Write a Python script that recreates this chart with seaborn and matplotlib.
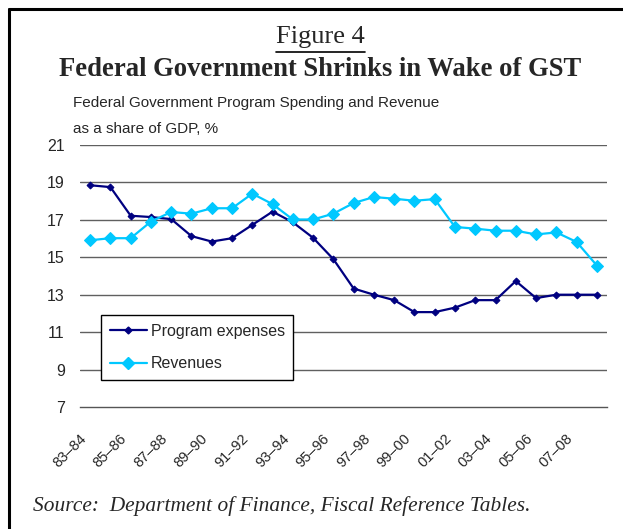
import matplotlib
matplotlib.use("Agg")
import matplotlib.pyplot as plt
import matplotlib.transforms as mtransforms
import seaborn as sns
import pandas as pd
from matplotlib.lines import Line2D

years = ["83–84", "84–85", "85–86", "86–87", "87–88", "88–89", "89–90", "90–91",
         "91–92", "92–93", "93–94", "94–95", "95–96", "96–97", "97–98", "98–99",
         "99–00", "00–01", "01–02", "02–03", "03–04", "04–05", "05–06", "06–07",
         "07–08", "08–09"]
program_expenses = [18.85, 18.75, 17.22, 17.15, 17.04, 16.13, 15.84, 16.02, 16.73, 17.44,
                    16.87, 16.04, 14.9, 13.33, 13.0, 12.71, 12.07, 12.07, 12.31, 12.71,
                    12.71, 13.73, 12.82, 13.0, 13.0, 13.0]
revenues = [15.91, 16.02, 16.02, 16.91, 17.42, 17.33, 17.62, 17.62, 18.4, 17.84,
            17.02, 17.02, 17.33, 17.9, 18.22, 18.13, 18.02, 18.11, 16.62, 16.53,
            16.42, 16.42, 16.22, 16.33, 15.82, 14.56]
yticks = [7, 9, 11, 13, 15, 17, 19, 21]

sns.set_style("white")
sans = ["Liberation Sans", "DejaVu Sans"]
serif = ["Liberation Serif", "DejaVu Serif"]
plt.rcParams["font.family"] = sans

W, H = 623, 529
fig = plt.figure(figsize=(W / 100, H / 100), dpi=100)
ax = fig.add_axes([80 / W, (H - 407) / H, (607 - 80) / W, (407 - 145) / H])

df = pd.DataFrame({"idx": list(range(len(years))), "year": years,
                   "Program expenses": program_expenses, "Revenues": revenues})

NAVY = "#000080"
CYAN = "#00C8FF"
sns.lineplot(data=df, x="idx", y="Program expenses", ax=ax, color=NAVY,
             marker="D", markersize=3.5, markeredgecolor=NAVY, linewidth=1.6)
sns.lineplot(data=df, x="idx", y="Revenues", ax=ax, color=CYAN,
             marker="D", markersize=6.5, markeredgecolor=CYAN, linewidth=1.6)

ax.set_xlim(-0.5, len(years) - 0.5)
ax.set_ylim(7, 21)
ax.set_yticks(yticks)
ax.set_yticklabels([str(v) for v in yticks], fontsize=11.5)
for v in yticks[1:]:
    ax.axhline(v, color="#606060", linewidth=1.0, zorder=0)

ax.set_xticks([i for i in range(0, len(years), 2)])
ax.set_xticklabels([years[i] for i in range(0, len(years), 2)], rotation=45,
                   ha="right", va="center", rotation_mode="anchor", fontsize=10.5)
ax.tick_params(axis="x", which="major", length=0, pad=21)
shift = mtransforms.ScaledTranslation(-6 / 100, 0, fig.dpi_scale_trans)
for lbl in ax.get_xticklabels():
    lbl.set_transform(lbl.get_transform() + shift)
ax.tick_params(axis="y", length=0, pad=11)
ax.set_xticks([i - 0.5 for i in range(len(years) + 1)], minor=True)
ax.tick_params(axis="x", which="minor", length=6, width=0.8, color="#555555", direction="out")
ax.set_xlabel("")
ax.set_ylabel("")
for s in ["top", "right", "left"]:
    ax.spines[s].set_visible(False)
ax.spines["bottom"].set_color("#555555")
ax.spines["bottom"].set_linewidth(1.0)

handles = [Line2D([], [], color=NAVY, marker="D", markersize=3.5, linewidth=1.6),
           Line2D([], [], color=CYAN, marker="D", markersize=6.5, linewidth=1.6)]
leg = ax.legend(handles, ["Program expenses", "Revenues"], loc="upper left",
                bbox_to_anchor=((101 - 80) / (607 - 80), (407 - 315) / (407 - 145)),
                borderaxespad=0, fontsize=11.5, frameon=True, fancybox=False, framealpha=1,
                edgecolor="black", borderpad=0.55, handlelength=2.3,
                labelspacing=1.1, handletextpad=0.25)
leg.get_frame().set_linewidth(1.0)

fig.text(320.5 / W, 1 - 37 / H, "Figure 4", ha="center", va="center",
         family=serif, fontsize=19)
fig.add_artist(Line2D([276 / W, 365 / W], [1 - 52 / H, 1 - 52 / H], color="black", linewidth=1.2))
fig.text(320 / W, 1 - 70 / H, "Federal Government Shrinks in Wake of GST", ha="center",
         va="center", family=serif, fontsize=19.2, fontweight="bold")
fig.text(73 / W, 1 - 103 / H, "Federal Government Program Spending and Revenue",
         ha="left", va="center", fontsize=11)
fig.text(73 / W, 1 - 129 / H, "as a share of GDP, %", ha="left", va="center", fontsize=11)
fig.text(33 / W, 1 - 506 / H, "Source:  Department of Finance, Fiscal Reference Tables.",
         ha="left", va="center", family=serif, style="italic", fontsize=15.4)

fig.add_artist(Line2D([9 / W, 1], [1 - 9 / H, 1 - 9 / H], color="black", linewidth=2.2))
fig.add_artist(Line2D([9 / W, 9 / W], [0, 1 - 9 / H], color="black", linewidth=2.2))

fig.savefig("out.png", dpi=100)
